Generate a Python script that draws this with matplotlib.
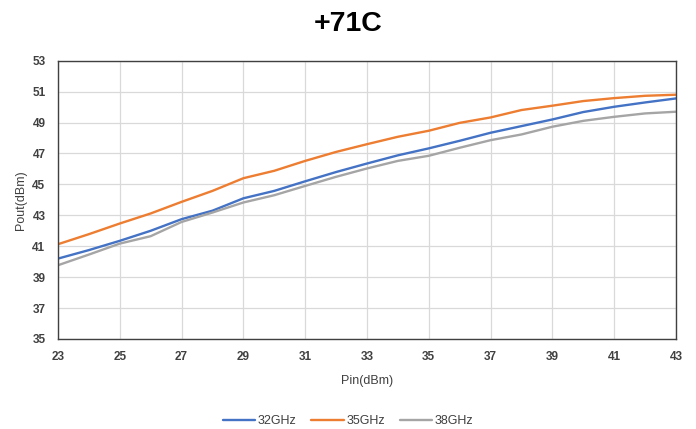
import matplotlib
matplotlib.use("Agg")
import matplotlib.pyplot as plt

pin = [23, 24, 25, 26, 27, 28, 29, 30, 31, 32, 33, 34, 35, 36, 37, 38, 39, 40, 41, 42, 43]
pout_32 = [40.2, 40.75, 41.35, 42.0, 42.75, 43.3, 44.1, 44.58, 45.2, 45.8, 46.35, 46.88,
           47.33, 47.82, 48.34, 48.77, 49.2, 49.68, 50.02, 50.3, 50.56]
pout_35 = [41.13, 41.78, 42.47, 43.12, 43.87, 44.58, 45.4, 45.88, 46.52, 47.1, 47.6, 48.08,
           48.47, 48.98, 49.33, 49.81, 50.09, 50.39, 50.58, 50.73, 50.8]
pout_38 = [39.77, 40.46, 41.17, 41.65, 42.57, 43.18, 43.83, 44.3, 44.9, 45.49, 46.03, 46.52,
           46.85, 47.37, 47.86, 48.23, 48.73, 49.11, 49.37, 49.59, 49.7]
series_labels = ["32GHz", "35GHz", "38GHz"]
x_ticks = list(range(23, 44, 2))
y_ticks = list(range(35, 54, 2))

plt.rcParams['font.family'] = ['Liberation Sans', 'DejaVu Sans']

fig = plt.figure(figsize=(6.96, 4.29), dpi=100)
ax = fig.add_axes([0.0833, 0.2098, 0.8880, 0.6487])

colors = ["#4472C4", "#ED7D31", "#A5A5A5"]
for ys, lab, c in zip([pout_32, pout_35, pout_38], series_labels, colors):
    ax.plot(pin, ys, color=c, lw=1.7, label=lab, solid_capstyle='round')

ax.set_xlim(23, 43)
ax.set_ylim(35, 53)
ax.set_xticks(x_ticks)
ax.set_yticks(y_ticks)
ax.grid(True, color="#d9d9d9", lw=0.9)
ax.set_axisbelow(True)
for s in ax.spines.values():
    s.set_color("#404040")
    s.set_linewidth(1.0)
ax.tick_params(length=0, labelsize=8.5, labelcolor="#404040", pad=9)
for t in ax.get_xticklabels() + ax.get_yticklabels():
    t.set_fontweight('bold')

ax.set_xlabel("Pin(dBm)", fontsize=9, color="#404040", labelpad=8)
ax.set_ylabel("Pout(dBm)", fontsize=9, color="#404040", labelpad=4)

fig.text(0.5, 0.943, "+71C", ha='center', va='center', fontsize=20.5, fontweight='bold')

leg = fig.legend(loc='center', bbox_to_anchor=(0.5, 0.018), ncol=3, frameon=False,
                 fontsize=9, handlelength=2.6, columnspacing=1.2, handletextpad=0.2,
                 labelcolor="#404040")

fig.savefig("out.png", dpi=100)
